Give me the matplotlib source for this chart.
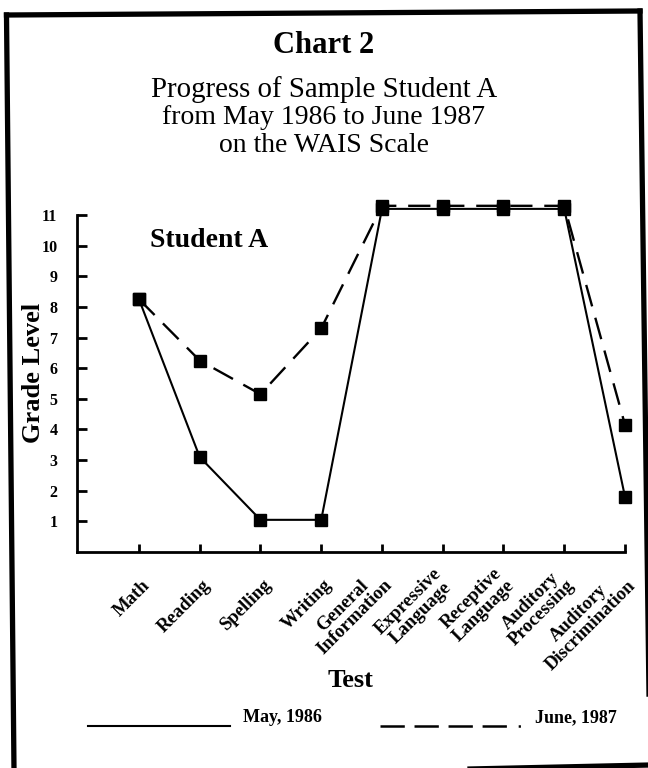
import numpy as np
import matplotlib
matplotlib.use("Agg")
import matplotlib.pyplot as plt
from matplotlib.lines import Line2D
from matplotlib.legend_handler import HandlerLine2D
import matplotlib.transforms as mtransforms

# ---------------- data ----------------
tests = ["Math", "Reading", "Spelling", "Writing",
         "General\nInformation", "Expressive\nLanguage", "Receptive\nLanguage",
         "Auditory\nProcessing", "Auditory\nDiscrimination"]
may_1986 = [8.25, 3.1, 1.05, 1.05, 11.2, 11.2, 11.2, 11.2, 1.8]
june_1987 = [8.25, 6.25, 5.15, 7.3, 11.3, 11.3, 11.3, 11.3, 4.15]
y_ticks = list(range(1, 12))
series_labels = ["May, 1986", "June, 1987"]

plt.rcParams["font.family"] = ["Liberation Serif", "DejaVu Serif"]
plt.rcParams["lines.scale_dashes"] = False

W, H = 648, 768
fig = plt.figure(figsize=(W / 100, H / 100), dpi=100)
fig.patch.set_facecolor("white")


def fx(px):
    return px / W


def fy(py):
    return 1 - py / H


ax = fig.add_axes([fx(77), fy(552), (625 - 77) / W, (552 - 215) / H])
xs = np.arange(len(tests))

ax.plot(xs, may_1986, color="black", lw=1.5, marker="s", ms=8.5,
        clip_on=False, zorder=3)
ax.plot(xs, june_1987, color="black", lw=1.7, ls=(0, (16, 8.5)), marker="s",
        ms=8.5, clip_on=False, zorder=3)

ax.set_xlim(-1.02, 8)
ax.set_ylim(0, 11)
for s in ("top", "right"):
    ax.spines[s].set_visible(False)
for s in ("left", "bottom"):
    ax.spines[s].set_linewidth(2)

ax.set_yticks(y_ticks)
ax.set_yticklabels([str(v) for v in y_ticks], fontsize=11.5, fontweight="bold")
ax.tick_params(axis="y", direction="in", length=7, width=2, pad=14)

ax.set_xticks(xs)
ax.set_xticklabels(tests, rotation=45, ha="right", va="bottom",
                   rotation_mode="anchor", multialignment="center",
                   fontsize=13.5, fontweight="bold", linespacing=1.0)
ax.tick_params(axis="x", direction="in", length=6, width=2, pad=26.5)
off = mtransforms.ScaledTranslation(14 / 100, 0, fig.dpi_scale_trans)
for lab in ax.get_xticklabels():
    lab.set_transform(lab.get_transform() + off)

ax.set_ylabel("Grade Level", fontsize=19, fontweight="bold")
ax.yaxis.label.set_va("center")
ax.yaxis.set_label_coords(-0.08, 0.53)

ax.set_xlabel("Test", fontsize=19, fontweight="bold")
ax.xaxis.label.set_va("center")
ax.xaxis.set_label_coords(0.5, -0.38)

ax.text(0.133, 0.905, "Student A", transform=ax.transAxes, fontsize=20,
        fontweight="bold", ha="left", va="baseline")

# titles
fig.text(0.5, fy(53), "Chart 2", ha="center", va="baseline", fontsize=22,
         fontweight="bold")
for i, (line, fs) in enumerate([("Progress of Sample Student A", 20.8),
                                ("from May 1986 to June 1987", 20),
                                ("on the WAIS Scale", 20)]):
    fig.text(0.5, fy(97 + 27.5 * i), line, ha="center", va="baseline",
             fontsize=fs)


# legend
class LowLine(HandlerLine2D):
    def __init__(self, shift, **kw):
        super().__init__(**kw)
        self.shift = shift

    def create_artists(self, legend, orig_handle, xdescent, ydescent, width,
                       height, fontsize, trans):
        arts = super().create_artists(legend, orig_handle, xdescent, ydescent,
                                      width, height, fontsize, trans)
        for a in arts:
            if isinstance(a, Line2D):
                a.set_ydata(np.asarray(a.get_ydata()) - self.shift)
        return arts


h1 = Line2D([], [], color="black", lw=1.5)
h2 = Line2D([], [], color="black", lw=1.8,
            ls=(0, (17.5, 7, 17.5, 7, 17.5, 7, 17.5, 8.5, 1.6, 30)))
ax.legend([h1, h2], series_labels, ncol=2, frameon=False, loc="center left",
          bbox_to_anchor=(fx(88), fy(718)), bbox_transform=fig.transFigure,
          borderpad=0, borderaxespad=0, handlelength=7.85, handletextpad=0.72,
          columnspacing=3.25, prop={"size": 13, "weight": "bold"},
          handler_map={h1: LowLine(7), h2: LowLine(7)})

# scanned page frame
frame_kw = dict(color="black", lw=3.8, solid_capstyle="projecting")
fig.add_artist(Line2D([fx(6.5), fx(14)], [fy(15), fy(770)],
                      transform=fig.transFigure, **frame_kw))
fig.add_artist(Line2D([fx(6.5), fx(640)], [fy(15), fy(11)],
                      transform=fig.transFigure, **frame_kw))
fig.add_artist(Line2D([fx(640), fx(650)], [fy(11), fy(770)],
                      transform=fig.transFigure, **frame_kw))
fig.add_artist(Line2D([fx(470), fx(650)], [fy(769), fy(765)],
                      transform=fig.transFigure, **frame_kw))

fig.savefig("out.png", dpi=100, facecolor="white")
